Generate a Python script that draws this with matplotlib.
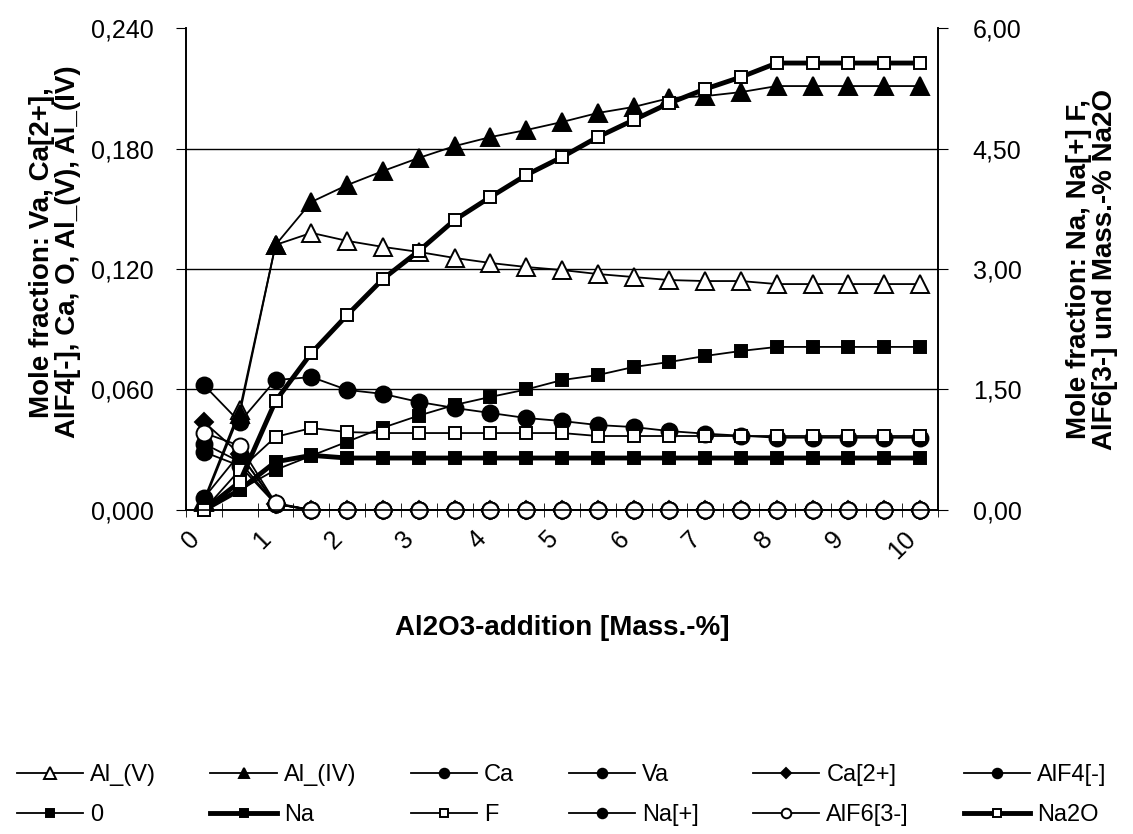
import matplotlib
matplotlib.use("Agg")
import matplotlib.pyplot as plt
from matplotlib.ticker import FuncFormatter
from matplotlib.transforms import ScaledTranslation

plt.rcParams['font.family'] = ['Liberation Sans', 'DejaVu Sans']

# Al2O3 addition in Mass.-% (category axis, every 0.5 %)
al2o3 = [0, 0.5, 1, 1.5, 2, 2.5, 3, 3.5, 4, 4.5, 5, 5.5, 6, 6.5, 7, 7.5, 8, 8.5, 9, 9.5, 10]
tick_labels = ['0', '1', '2', '3', '4', '5', '6', '7', '8', '9', '10']

# left axis: mole fractions
al_v = [0.005, 0.050, 0.132, 0.138, 0.134, 0.131, 0.1285, 0.1255, 0.123, 0.121, 0.1195,
        0.1175, 0.116, 0.1145, 0.114, 0.114, 0.1125, 0.1125, 0.1125, 0.1125, 0.1125]
al_iv = [0.004, 0.048, 0.132, 0.1534, 0.1618, 0.1688, 0.1753, 0.1812, 0.1857, 0.1892, 0.1932,
         0.1977, 0.2007, 0.2051, 0.2061, 0.2081, 0.2111, 0.2111, 0.2111, 0.2111, 0.2111]
ca = [0.033, 0.024, 0.003, 0, 0, 0, 0, 0, 0, 0, 0, 0, 0, 0, 0, 0, 0, 0, 0, 0, 0]
va = [0.0289, 0.022, 0.003, 0, 0, 0, 0, 0, 0, 0, 0, 0, 0, 0, 0, 0, 0, 0, 0, 0, 0]
ca2 = [0.0438, 0.028, 0.003, 0, 0, 0, 0, 0, 0, 0, 0, 0, 0, 0, 0, 0, 0, 0, 0, 0, 0]
alf4 = [0.0622, 0.0438, 0.0647, 0.0662, 0.0598, 0.0578, 0.0538, 0.0508, 0.0483, 0.0458, 0.0443,
        0.0423, 0.0413, 0.0393, 0.038, 0.037, 0.036, 0.036, 0.036, 0.036, 0.036]
o = [0.0, 0.010, 0.020, 0.027, 0.034, 0.041, 0.047, 0.0523, 0.0563, 0.0600, 0.0647,
     0.0672, 0.0712, 0.0737, 0.0767, 0.0792, 0.0812, 0.0812, 0.0812, 0.0812, 0.0812]

# right axis: mole fractions and Mass.-% Na2O
na = [0.0, 0.25, 0.60, 0.68, 0.647, 0.647, 0.647, 0.647, 0.647, 0.647, 0.647,
      0.647, 0.647, 0.647, 0.647, 0.647, 0.647, 0.647, 0.647, 0.647, 0.647]
f = [0.0, 0.50, 0.91, 1.02, 0.97, 0.958, 0.958, 0.958, 0.958, 0.958, 0.958,
     0.921, 0.921, 0.921, 0.921, 0.921, 0.921, 0.921, 0.921, 0.921, 0.921]
na_p = [0.15, 0.70, 0.08, 0, 0, 0, 0, 0, 0, 0, 0, 0, 0, 0, 0, 0, 0, 0, 0, 0, 0]
alf6 = [0.96, 0.80, 0.087, 0, 0, 0, 0, 0, 0, 0, 0, 0, 0, 0, 0, 0, 0, 0, 0, 0, 0]
na2o = [0.0, 0.35, 1.357, 1.954, 2.427, 2.876, 3.224, 3.61, 3.896, 4.170, 4.394,
        4.643, 4.855, 5.066, 5.241, 5.390, 5.564, 5.564, 5.564, 5.564, 5.564]

x = list(range(len(al2o3)))

fig = plt.figure(figsize=(11.33, 8.34), dpi=100)
ax = fig.add_axes([0.1642, 0.3885, 0.6637, 0.5779])
ax2 = ax.twinx()

thin = dict(color='black', lw=1.3, mec='black', mew=1.4, clip_on=False)
thick = dict(color='black', lw=3.5, mec='black', mew=1.4, clip_on=False)

lines = {}
lines['Al_(V)'] = ax.plot(x, al_v, marker='^', ms=13.5, mfc='white', **thin)[0]
lines['Al_(IV)'] = ax.plot(x, al_iv, marker='^', ms=13, mfc='black', **thin)[0]
lines['Ca'] = ax.plot(x, ca, marker='o', ms=11.5, mfc='black', **thin)[0]
lines['Va'] = ax.plot(x, va, marker='o', ms=11.5, mfc='black', **thin)[0]
lines['Ca[2+]'] = ax.plot(x, ca2, marker='D', ms=9, mfc='black', **thin)[0]
lines['AlF4[-]'] = ax.plot(x, alf4, marker='o', ms=11.5, mfc='black', **thin)[0]
lines['0'] = ax.plot(x, o, marker='s', ms=9, mfc='black', **thin)[0]
lines['Na'] = ax2.plot(x, na, marker='s', ms=9, mfc='black', **thick)[0]
lines['F'] = ax2.plot(x, f, marker='s', ms=9, mfc='white', **thin)[0]
lines['Na[+]'] = ax2.plot(x, na_p, marker='o', ms=11.5, mfc='black', **thin)[0]
lines['AlF6[3-]'] = ax2.plot(x, alf6, marker='o', ms=11.5, mfc='white', **thin)[0]
lines['Na2O'] = ax2.plot(x, na2o, marker='s', ms=9, mfc='white', **thick)[0]

ax.set_xlim(-0.5, len(x) - 0.5)
ax.set_ylim(0, 0.24)
ax2.set_ylim(0, 6)
ax.set_yticks([0, 0.06, 0.12, 0.18, 0.24])
ax2.set_yticks([0, 1.5, 3, 4.5, 6])
ax.yaxis.set_major_formatter(FuncFormatter(lambda v, p: f'{v:.3f}'.replace('.', ',')))
ax2.yaxis.set_major_formatter(FuncFormatter(lambda v, p: f'{v:.2f}'.replace('.', ',')))

ax.set_xticks(x[::2])
ax.set_xticklabels(tick_labels, rotation=45, ha='right', va='top')
shift = ScaledTranslation(-9 / 100, 0, fig.dpi_scale_trans)
for lab in ax.get_xticklabels():
    lab.set_transform(lab.get_transform() + shift)
ax.set_xticks([i - 0.5 for i in range(len(x) + 1)], minor=True)
ax.tick_params(axis='x', which='major', length=0, pad=12, labelsize=18)
ax.tick_params(axis='x', which='minor', length=10, direction='inout')
ax.tick_params(axis='y', length=7, direction='out', labelsize=18, pad=16)
ax2.tick_params(axis='y', length=7, direction='out', labelsize=18, pad=18)

ax.yaxis.grid(True, color='black', lw=1)
ax.get_ygridlines()[-1].set_visible(False)
for a in (ax, ax2):
    a.spines['top'].set_visible(False)
    for s in ('left', 'right', 'bottom'):
        a.spines[s].set_linewidth(1.2)

ax.set_xlabel('Al2O3-addition [Mass.-%]', fontsize=20, fontweight='bold', labelpad=37)
ax.set_ylabel('Mole fraction: Va, Ca[2+],\nAlF4[-], Ca, O, Al_(V), Al_(IV)',
              fontsize=20, fontweight='bold', linespacing=1.0)
ax.yaxis.set_label_coords(-0.14, 0.535)
ax2.set_ylabel('Mole fraction: Na, Na[+] F,\nAlF6[3-] und Mass.-% Na2O',
               fontsize=20, fontweight='bold', labelpad=32, linespacing=1.0)

order = ['Al_(V)', '0', 'Al_(IV)', 'Na', 'Ca', 'F', 'Va', 'Na[+]',
         'Ca[2+]', 'AlF6[3-]', 'AlF4[-]', 'Na2O']
fig.legend([lines[k] for k in order], order, ncol=6, loc='lower left',
           bbox_to_anchor=(-0.004, -0.016, 0.999, 0.1), mode='expand',
           frameon=False, fontsize=17, markerscale=0.6, handlelength=2.8,
           labelspacing=0.75, handletextpad=0.3)

fig.savefig('out.png', dpi=100)
